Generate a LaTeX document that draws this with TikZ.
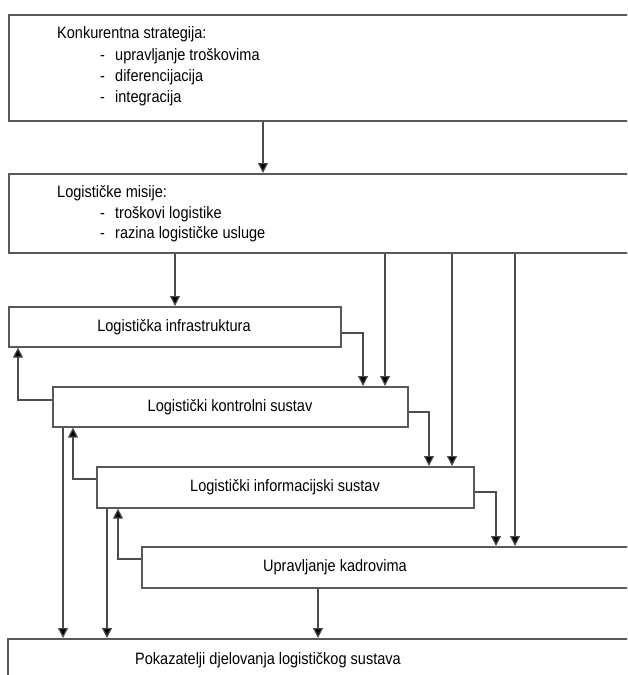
\documentclass[tikz,border=0pt]{standalone}
\usepackage{fontspec}
\setmainfont[FakeStretch=0.88]{Liberation Sans}
\usetikzlibrary{arrows.meta}
\begin{document}
\begin{tikzpicture}[x=1pt,y=-1pt,
  box/.style={draw=black!65,line width=1.6pt,fill=white,anchor=north west,inner sep=0pt,rectangle},
  txt/.style={inner sep=0pt,font=\fontsize{16.5}{21}\selectfont,text=black},
  arr/.style={draw=black!70,line width=1.2pt,-{Triangle[length=10pt,width=10pt,fill=black]}}]
\useasboundingbox (0,0) rectangle (627,675);
\clip (0,0) rectangle (627,675);
\fill[white] (0,0) rectangle (627,675);
% boxes
\node[box,minimum width=632pt,minimum height=106pt] (b1) at (8,14) {};
\node[box,minimum width=632pt,minimum height=79pt] (b2) at (8,173) {};
\node[box,minimum width=332pt,minimum height=40pt] (b3) at (8,306) {};
\node[box,minimum width=355pt,minimum height=40pt] (b4) at (52,386) {};
\node[box,minimum width=377pt,minimum height=41pt] (b5) at (96,466) {};
\node[box,minimum width=499pt,minimum height=41pt] (b6) at (141,546) {};
\node[box,minimum width=633pt,minimum height=62pt] (b7) at (7,638) {};
% texts
\node[txt,anchor=base west] (t1a) at (57,38) {Konkurentna strategija:};
\node[txt,anchor=base west] (t1b) at (100,60) {\makebox[15pt][l]{-}upravljanje troškovima};
\node[txt,anchor=base west] (t1c) at (100,81) {\makebox[15pt][l]{-}diferencijacija};
\node[txt,anchor=base west] (t1d) at (100,102) {\makebox[15pt][l]{-}integracija};
\node[txt,anchor=base west] (t2a) at (57,197) {Logističke misije:};
\node[txt,anchor=base west] (t2b) at (100,218) {\makebox[15pt][l]{-}troškovi logistike};
\node[txt,anchor=base west] (t2c) at (100,238) {\makebox[15pt][l]{-}razina logističke usluge};
\node[txt,anchor=base] (t3) at (174,331) {Logistička infrastruktura};
\node[txt,anchor=base] (t4) at (230,411) {Logistički kontrolni sustav};
\node[txt,anchor=base] (t5) at (285,491) {Logistički informacijski sustav};
\node[txt,anchor=base] (t6) at (335,571) {Upravljanje kadrovima};
\node[txt,anchor=base] (t7) at (268,664) {Pokazatelji djelovanja logističkog sustava};
% column coordinates
\coordinate (c1) at (263,0);
\coordinate (c2) at (175,0);
\coordinate (c3) at (385,0);
\coordinate (c4) at (452,0);
\coordinate (c5) at (515,0);
\coordinate (c6) at (363,0);
\coordinate (c7) at (429,0);
\coordinate (c8) at (496,0);
\coordinate (c9) at (18,0);
\coordinate (c10) at (73,0);
\coordinate (c11) at (118,0);
\coordinate (c12) at (63,0);
\coordinate (c13) at (107,0);
\coordinate (c14) at (318,0);
\coordinate (r3) at (0,333);
\coordinate (r4) at (0,412);
\coordinate (r5) at (0,492);
\coordinate (l4) at (0,400);
\coordinate (l5) at (0,479);
\coordinate (l6) at (0,559);
% connectors
\draw[arr] (c1 |- b1.south) -- (c1 |- b2.north);
\draw[arr] (c2 |- b2.south) -- (c2 |- b3.north);
\draw[arr] (c3 |- b2.south) -- (c3 |- b4.north);
\draw[arr] (c4 |- b2.south) -- (c4 |- b5.north);
\draw[arr] (c5 |- b2.south) -- (c5 |- b6.north);
\draw[arr] (b3.east |- r3) -| (c6 |- b4.north);
\draw[arr] (b4.east |- r4) -| (c7 |- b5.north);
\draw[arr] (b5.east |- r5) -| (c8 |- b6.north);
\draw[arr] (b4.west |- l4) -| (c9 |- b3.south);
\draw[arr] (b5.west |- l5) -| (c10 |- b4.south);
\draw[arr] (b6.west |- l6) -| (c11 |- b5.south);
\draw[arr] (c12 |- b4.south) -- (c12 |- b7.north);
\draw[arr] (c13 |- b5.south) -- (c13 |- b7.north);
\draw[arr] (c14 |- b6.south) -- (c14 |- b7.north);
\end{tikzpicture}
\end{document}
